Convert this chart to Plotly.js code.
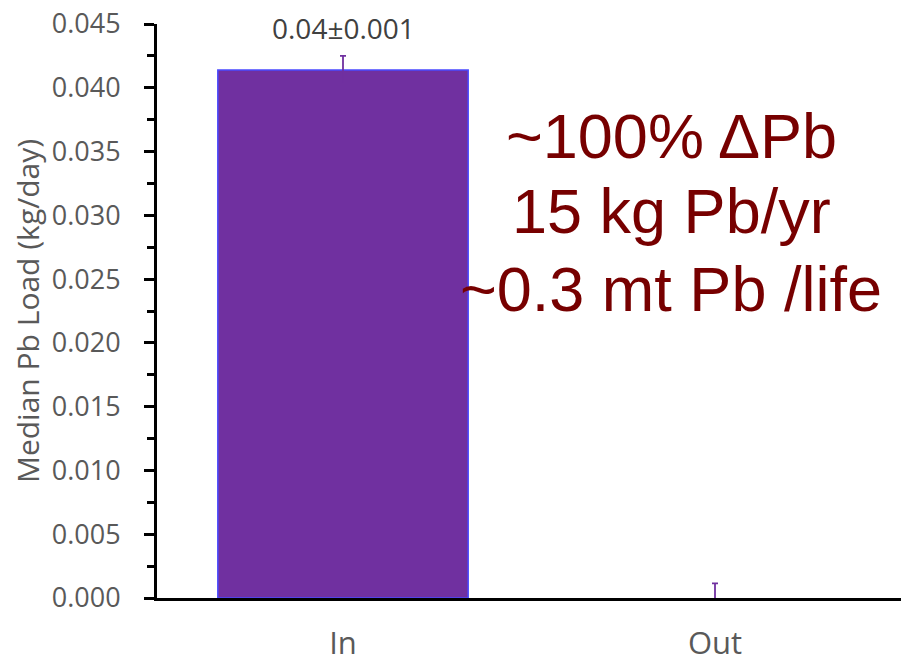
<!DOCTYPE html>
<html><head><meta charset="utf-8">
<script src="https://cdn.plot.ly/plotly-3.0.1.min.js"></script>
<style>html,body{margin:0;padding:0;background:#fff}</style>
</head><body>
<div id="chart" style="width:905px;height:663px"></div>
<script>
const categories = ["In", "Out"];
const medianLoad = [0.0414, 0.0];
const loadError = [0.0011, 0.00115];
const valueLabel = "0.04±0.001";
const noteLines = ["~100% ΔPb", "15 kg Pb/yr", "~0.3 mt Pb /life"];
const yTickVals = [0, 0.005, 0.01, 0.015, 0.02, 0.025, 0.03, 0.035, 0.04, 0.045];

const L = 157, R = 4, T = 24, B = 65, W = 905, H = 663;
const pw = W - L - R, ph = H - T - B;
const px = x => (x - L) / pw;
const py = y => (H - B - y) / ph;

const trace = {
  type: "bar", x: categories, y: medianLoad, width: 0.673,
  marker: {color: "#7030A0", line: {color: "#4A4AFF", width: [1.5, 0]}},
  error_y: {type: "data", array: loadError, visible: true, color: "#7030A0", thickness: 1.8, width: 3},
  hoverinfo: "none"
};

const annotations = [
  {xref: "paper", yref: "paper", x: px(343), y: py(28), text: valueLabel, showarrow: false,
   xanchor: "center", yanchor: "middle", font: {family: "Open Sans", size: 28, color: "#404040"}}
];
const noteY = [136, 211, 289];
noteLines.forEach((t, i) => annotations.push({
  xref: "paper", yref: "paper", x: px(671), y: py(noteY[i]), text: t, showarrow: false,
  xanchor: "center", yanchor: "middle", font: {family: "Liberation Sans, Arial", size: 63, color: "#770000"}
}));

const layout = {
  width: W, height: H, margin: {l: L, r: R, t: T, b: B, pad: 0},
  paper_bgcolor: "#fff", plot_bgcolor: "#fff", showlegend: false,
  font: {family: "Open Sans", color: "#595959"},
  xaxis: {showline: true, linecolor: "#000", linewidth: 3, ticks: "", showgrid: false, zeroline: false,
          tickfont: {size: 31, color: "#595959"}, ticklabelstandoff: 16, fixedrange: true},
  yaxis: {range: [0, 0.045], tickvals: yTickVals, tickformat: ".3f", showline: true, linecolor: "#000", linewidth: 3,
          ticks: "outside", ticklen: 10, tickwidth: 3, tickcolor: "#000", showgrid: false, zeroline: false,
          minor: {dtick: 0.0025, ticks: "outside", ticklen: 7, tickwidth: 3, tickcolor: "#000", showgrid: false},
          tickfont: {size: 27, color: "#595959"}, ticklabelstandoff: 18,
          title: {text: "Median Pb Load (kg/day)", font: {size: 30, color: "#595959"}, standoff: 4}},
  annotations: annotations
};
Plotly.newPlot("chart", [trace], layout, {displayModeBar: false, staticPlot: true});
</script>
</body></html>
